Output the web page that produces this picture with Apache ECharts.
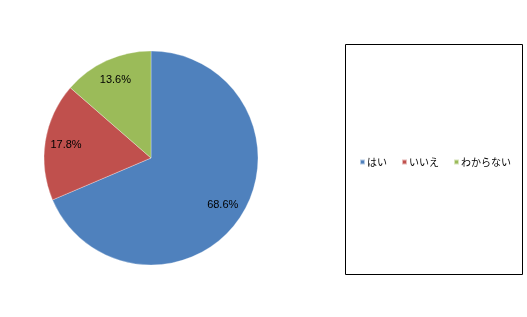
<!DOCTYPE html>
<html><head><meta charset="utf-8">
<script src="https://cdn.jsdelivr.net/npm/echarts@6/dist/echarts.min.js"></script>
<style>html,body{margin:0;padding:0;background:#fff}#c{width:527px;height:317px}</style>
</head><body><div id="c"></div>
<script>
const categories = ['はい', 'いいえ', 'わからない'];
const values = [68.6, 17.8, 13.6];
const colors = ['#4F81BD', '#C0504D', '#9BBB59'];

const data = categories.map((n, i) => ({ name: n, value: values[i], itemStyle: { color: colors[i] } }));
const labelData = categories.map((n, i) => ({ name: n, value: values[i] }));

const chart = echarts.init(document.getElementById('c'), null, { renderer: 'canvas' });
chart.setOption({
  animation: false,
  backgroundColor: '#fff',
  graphic: [{
    type: 'rect', left: 345, top: 44, z: -1,
    shape: { width: 177, height: 230 },
    style: { fill: '#fff', stroke: '#000', lineWidth: 1 }
  }],
  legend: {
    data: categories,
    orient: 'horizontal',
    left: 354, top: 152,
    icon: 'rect', itemWidth: 5, itemHeight: 5, itemGap: 14,
    textStyle: { fontFamily: 'Noto Sans CJK JP', fontSize: 10, color: '#000', padding: [0, 0, 0, -3] },
    selectedMode: false
  },
  series: [{
    type: 'pie',
    center: [151, 158], radius: 107,
    startAngle: 90, clockwise: true,
    silent: true,
    label: { show: false }, labelLine: { show: false },
    itemStyle: { borderWidth: 0.5, borderColor: 'rgba(255,255,255,0.6)' },
    data: data
  }, {
    type: 'pie',
    center: [151, 158], radius: [62, 104],
    startAngle: 90, clockwise: true,
    silent: true,
    itemStyle: { color: 'rgba(0,0,0,0)' },
    label: {
      show: true, position: 'inside',
      formatter: p => p.value.toFixed(1) + '%',
      fontFamily: 'Liberation Sans, Arial', fontSize: 11, color: '#000'
    },
    labelLine: { show: false },
    data: labelData
  }]
});
</script></body></html>
